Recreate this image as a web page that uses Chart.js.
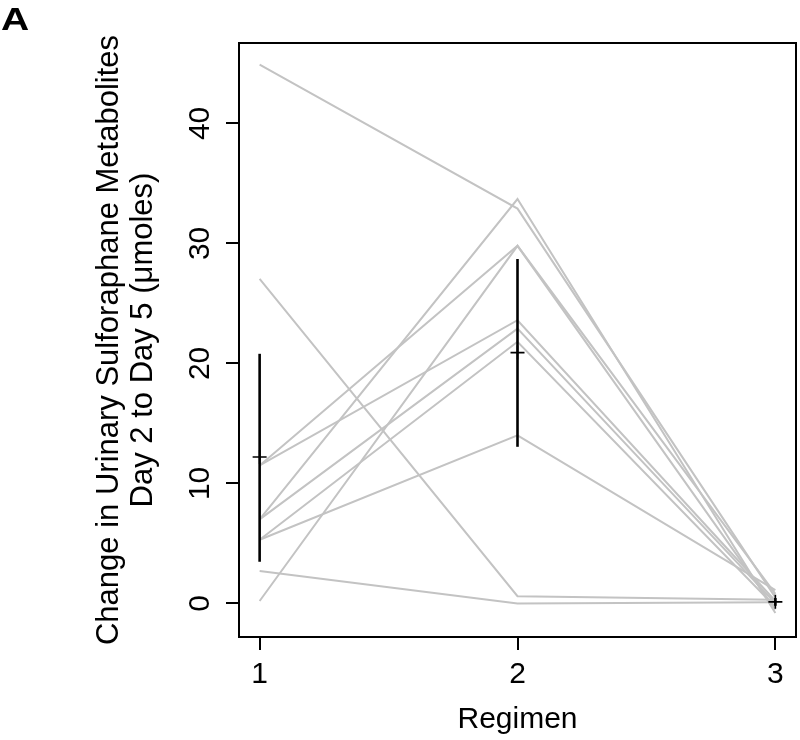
<!DOCTYPE html>
<html>
<head>
<meta charset="utf-8">
<script src="https://cdn.jsdelivr.net/npm/chart.js@4/dist/chart.umd.min.js"></script>
<style>
  html, body { margin: 0; padding: 0; background: #fff; }
  #wrap { width: 800px; height: 740px; }
</style>
</head>
<body>
<div id="wrap"><canvas id="regimenChart" width="800" height="740"></canvas></div>
<script>
// regimens on the x axis
const regimens = [1, 2, 3];
// change in urinary metabolites per subject (same subject order in each array)
const regimen1 = [44.9, 27.05, 11.5, 11.5, 7.0, 7.0, 5.3, 5.3, 2.7, 0.2];
const regimen2 = [32.9, 0.6, 29.8, 23.6, 33.7, 22.9, 21.8, 14.0, 0.0, 29.8];
const regimen3 = [0.5, 0.3, 0.8, 0.2, -0.8, 0.0, -0.3, 1.1, 0.1, -0.5];
// mean with interval bars
const meanValues = [12.2, 20.9, 0.13];
const barLower = [3.47, 13.05, -0.2];
const barUpper = [20.8, 28.7, 0.45];
// tick labels
const xTicks = [1, 2, 3];
const yTicks = [0, 10, 20, 30, 40];

const FONT = '"Liberation Sans", Arial, Helvetica, sans-serif';

document.addEventListener('DOMContentLoaded', () => {
    const columns = [regimen1, regimen2, regimen3];
    const datasets = [];

    // one grey line per subject
    regimen1.forEach((v, i) => {
        datasets.push({
            data: regimens.map((r, j) => ({ x: r, y: columns[j][i] })),
            borderColor: '#c3c3c3',
            borderWidth: 2,
            pointRadius: 0,
            tension: 0,
            order: 2
        });
    });

    // vertical interval bars
    regimens.forEach((r, j) => {
        datasets.push({
            data: [{ x: r, y: barLower[j] }, { x: r, y: barUpper[j] }],
            borderColor: '#000',
            borderWidth: 2.6,
            pointRadius: 0,
            order: 1
        });
    });

    // means as crosses
    datasets.push({
        data: regimens.map((r, j) => ({ x: r, y: meanValues[j] })),
        showLine: false,
        pointStyle: 'cross',
        pointRadius: 7,
        borderColor: '#000',
        backgroundColor: '#000',
        borderWidth: 1.6,
        order: 0
    });

    // box, tick labels (y rotated), y title and panel letter
    const decorations = {
        id: 'decorations',
        afterDraw(chart) {
            const ctx = chart.ctx;
            const area = chart.chartArea;
            const xScale = chart.scales.x;
            const yScale = chart.scales.y;
            ctx.save();
            ctx.strokeStyle = '#000';
            ctx.lineWidth = 2;
            ctx.strokeRect(area.left, area.top, area.right - area.left, area.bottom - area.top);

            ctx.fillStyle = '#000';
            ctx.font = '30px ' + FONT;
            ctx.textAlign = 'center';
            ctx.textBaseline = 'alphabetic';
            xTicks.forEach(v => {
                ctx.fillText(String(v), xScale.getPixelForValue(v), 683);
            });
            yTicks.forEach(v => {
                ctx.save();
                ctx.translate(208.5, yScale.getPixelForValue(v));
                ctx.rotate(-Math.PI / 2);
                ctx.fillText(String(v), 0, 0);
                ctx.restore();
            });

            const midY = (area.top + area.bottom) / 2;
            ctx.font = '31px ' + FONT;
            ctx.save();
            ctx.translate(117.5, midY);
            ctx.rotate(-Math.PI / 2);
            ctx.fillText('Change in Urinary Sulforaphane Metabolites', 0, 0);
            ctx.restore();
            ctx.save();
            ctx.translate(151.5, midY);
            ctx.rotate(-Math.PI / 2);
            ctx.fillText('Day 2 to Day 5 (\u03bcmoles)', 0, 0);
            ctx.restore();

            // panel letter, a bit wider than plain bold
            ctx.font = 'bold 32px ' + FONT;
            ctx.textAlign = 'left';
            ctx.save();
            ctx.translate(1, 29.5);
            ctx.scale(1.22, 1);
            ctx.fillText('A', 0, 0);
            ctx.restore();
            ctx.restore();
        }
    };

    new Chart(document.getElementById('regimenChart'), {
        type: 'line',
        data: { datasets: datasets },
        options: {
            responsive: false,
            animation: false,
            layout: { autoPadding: false, padding: { top: 43, right: 4, left: 0, bottom: 0 } },
            plugins: {
                legend: { display: false },
                tooltip: { enabled: false }
            },
            scales: {
                x: {
                    type: 'linear',
                    min: 0.92,
                    max: 3.08,
                    afterBuildTicks: scale => { scale.ticks = xTicks.map(v => ({ value: v })); },
                    afterFit: scale => { scale.height = 103; },
                    border: { display: false },
                    grid: {
                        drawOnChartArea: false,
                        drawTicks: true,
                        tickLength: 13,
                        color: '#000',
                        lineWidth: 2
                    },
                    ticks: { display: false },
                    title: {
                        display: true,
                        text: 'Regimen',
                        color: '#000',
                        padding: { top: 0, bottom: 2 },
                        font: { family: FONT, size: 30 }
                    }
                },
                y: {
                    type: 'linear',
                    min: -2.8,
                    max: 46.7,
                    afterBuildTicks: scale => { scale.ticks = yTicks.map(v => ({ value: v })); },
                    afterFit: scale => { scale.width = 239; },
                    border: { display: false },
                    grid: {
                        drawOnChartArea: false,
                        drawTicks: true,
                        tickLength: 13,
                        color: '#000',
                        lineWidth: 2
                    },
                    ticks: { display: false }
                }
            }
        },
        plugins: [decorations]
    });
});
</script>
</body>
</html>
